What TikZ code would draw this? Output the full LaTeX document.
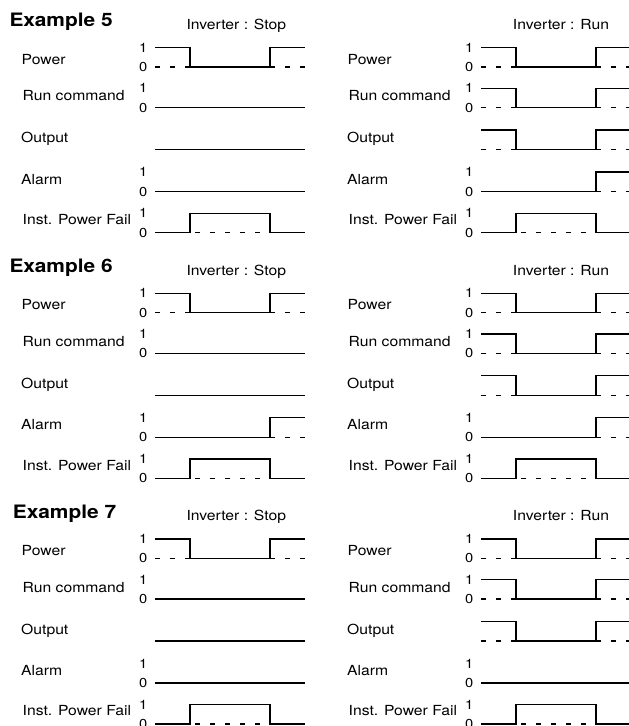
\documentclass[tikz,border=0pt]{standalone}
\usepackage{fontspec}
\setmainfont{TeX Gyre Heros}[FakeStretch=1.13]
\usetikzlibrary{positioning}

\tikzset{
  wave/.style={line width=1.4pt},
  zeroline/.style={line width=1.4pt, dash pattern=on 5pt off 10pt},
  signame/.style={anchor=base west, inner sep=0pt, font=\fontsize{13.9}{16}\selectfont},
  lvl/.style={anchor=east, inner sep=0pt, font=\fontsize{13}{15}\selectfont},
  extitle/.style={anchor=base west, inner sep=0pt, font=\fontsize{18.5}{22}\selectfont\bfseries},
  invtitle/.style={anchor=base, inner sep=0pt, font=\fontsize{13.9}{16}\selectfont}
}

% waveforms, #1 = y of the 0 level
\newcommand\flatwave[1]{%
  \draw[wave] (155,#1) -- (305,#1);}
\newcommand\dipwave[1]{%
  \draw[wave] (155,{#1-19.5}) -| (190,#1) -| (270,{#1-19.5}) -- (305,{#1-19.5});
  \draw[zeroline] (155,#1) -- (190,#1) (270,#1) -- (305,#1);}
\newcommand\pulsewave[1]{%
  \draw[wave] (155,#1) -| (190,{#1-19.5}) -| (270,#1) -- (305,#1);
  \draw[zeroline, dash phase=10pt] (190,#1) -- (270,#1);}
\newcommand\risewave[1]{%
  \draw[wave] (155,#1) -| (270,{#1-19.5}) -- (305,{#1-19.5});
  \draw[zeroline] (270,#1) -- (305,#1);}

\begin{document}
\begin{tikzpicture}[x=1pt, y=-1pt]
\useasboundingbox (0,0) rectangle (629,726);

\foreach \k/\n/\tx/\la/\ra in {0/5/9.3/flatwave/risewave, 1/6/9.3/risewave/risewave, 2/7/12.7/flatwave/flatwave}{
  \begin{scope}[shift={(0,245.7*\k)}]
    \node[extitle] (ex\n) at (\tx,26.7) {Example \n};
    \node[invtitle] (stop\n) at (236.3,29.3) {Inverter : Stop};
    \node[invtitle] (run\n) at (561,29.3) {Inverter : Run};
    \foreach \c/\rw/\aw in {0/flatwave/\la, 1/dipwave/\ra}{
      \begin{scope}[shift={(326*\c,0)}]
        \node[signame] (pw\n\c) at (21.5,64) {Power};
        \node[signame] (rc\n\c) at (22.5,100.7) {Run command};
        \node[signame] (op\n\c) at (21,142.7) {Output};
        \node[signame] (al\n\c) at (21,184) {Alarm};
        \node[signame] (pf\n\c) at (22.5,224.3) {Inst. Power Fail};
        \foreach \lo/\r in {67/p, 107.7/r, 191.5/a, 232.7/f}{
          \node[lvl] (one\r\n\c) at (147.5,{\lo-19.5}) {1};
          \node[lvl] (zero\r\n\c) at (147.5,\lo) {0};
        }
        \dipwave{67}
        \csname\rw\endcsname{107.7}
        \csname\rw\endcsname{149.5}
        \csname\aw\endcsname{191.5}
        \pulsewave{232.7}
      \end{scope}
    }
  \end{scope}
}
\end{tikzpicture}
\end{document}
